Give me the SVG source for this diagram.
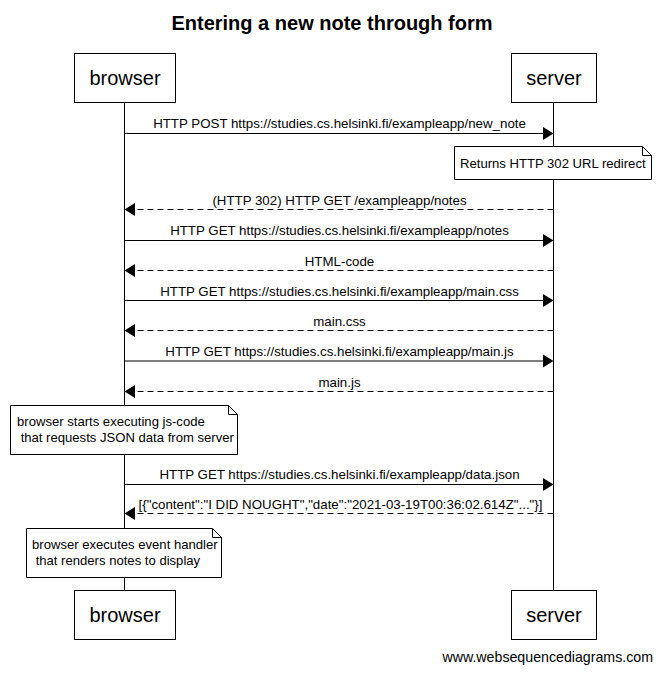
<svg xmlns="http://www.w3.org/2000/svg" width="662" height="673" viewBox="0 0 662 673">
<style>
text{font-family:"Liberation Sans",Arial,sans-serif;fill:#000}
.title{font-size:20px;font-weight:bold;text-anchor:middle}
.actor{font-size:20px;text-anchor:middle}
.lbl{font-size:13.3px;text-anchor:middle}
.nt{font-size:13.1px;white-space:pre}
.box{fill:#fff;stroke:#000;stroke-width:1}
.life{stroke:#000;stroke-width:1}
.msg{stroke:#000;stroke-width:1;fill:none}
.dash{stroke-dasharray:6,4}
.head{fill:#000}
.foot{font-size:14.2px;text-anchor:end}
</style>
<rect width="662" height="673" fill="#fff"/>
<text class="title" x="332" y="30">Entering a new note through form</text>
<g id="lifelines">
<line class="life" x1="124.5" y1="102" x2="124.5" y2="590"/>
<line class="life" x1="553.5" y1="102" x2="553.5" y2="590"/>
</g>
<g id="browser">
<rect class="box" x="74.5" y="53.5" width="101" height="49"/>
<text class="actor" x="125" y="85">browser</text>
</g>
<g id="server">
<rect class="box" x="511.5" y="53.5" width="85" height="49"/>
<text class="actor" x="554" y="85">server</text>
</g>
<g id="browser-bottom">
<rect class="box" x="74.5" y="590.5" width="101" height="49"/>
<text class="actor" x="125" y="622">browser</text>
</g>
<g id="server-bottom">
<rect class="box" x="511.5" y="590.5" width="85" height="49"/>
<text class="actor" x="554" y="622">server</text>
</g>
<g id="connectors">
<line class="msg" x1="124.5" y1="133.5" x2="544" y2="133.5"/>
<polygon class="head" points="553.5,133.5 543,127 543,140"/>
<text class="lbl" x="339.5" y="128">HTTP POST https://studies.cs.helsinki.fi/exampleapp/new_note</text>

<line class="msg dash" x1="553.5" y1="209.5" x2="134" y2="209.5"/>
<polygon class="head" points="124.5,209.5 135,203 135,216"/>
<text class="lbl" x="339.5" y="205">(HTTP 302) HTTP GET /exampleapp/notes</text>

<line class="msg" x1="124.5" y1="240.5" x2="544" y2="240.5"/>
<polygon class="head" points="553.5,240.5 543,234 543,247"/>
<text class="lbl" x="339.5" y="235">HTTP GET https://studies.cs.helsinki.fi/exampleapp/notes</text>

<line class="msg dash" x1="553.5" y1="270.5" x2="134" y2="270.5"/>
<polygon class="head" points="124.5,270.5 135,264 135,277"/>
<text class="lbl" x="339.5" y="266">HTML-code</text>

<line class="msg" x1="124.5" y1="300.5" x2="544" y2="300.5"/>
<polygon class="head" points="553.5,300.5 543,294 543,307"/>
<text class="lbl" x="339.5" y="296">HTTP GET https://studies.cs.helsinki.fi/exampleapp/main.css</text>

<line class="msg dash" x1="553.5" y1="330.5" x2="134" y2="330.5"/>
<polygon class="head" points="124.5,330.5 135,324 135,337"/>
<text class="lbl" x="339.5" y="326">main.css</text>

<line class="msg" x1="124.5" y1="361" x2="544" y2="361"/>
<polygon class="head" points="553.5,361 543,354.5 543,367.5"/>
<text class="lbl" x="339.5" y="356">HTTP GET https://studies.cs.helsinki.fi/exampleapp/main.js</text>

<line class="msg dash" x1="553.5" y1="391.5" x2="134" y2="391.5"/>
<polygon class="head" points="124.5,391.5 135,385 135,398"/>
<text class="lbl" x="339.5" y="387">main.js</text>

<line class="msg" x1="124.5" y1="484.5" x2="544" y2="484.5"/>
<polygon class="head" points="553.5,484.5 543,478 543,491"/>
<text class="lbl" x="339.5" y="479">HTTP GET https://studies.cs.helsinki.fi/exampleapp/data.json</text>

<line class="msg dash" x1="553.5" y1="513.5" x2="134" y2="513.5"/>
<polygon class="head" points="124.5,513.5 135,507 135,520"/>
<text class="lbl" x="340.5" y="509">[{"content":"I DID NOUGHT","date":"2021-03-19T00:36:02.614Z"..."}]</text>
</g>
<g id="note-redirect">
<path class="box" d="M454.5,146.5 H642.5 L651.5,155.5 V179.5 H454.5 Z"/>
<path class="msg" d="M642.5,146.5 V155.5 H651.5"/>
<text class="nt" x="460" y="168">Returns HTTP 302 URL redirect</text>
</g>
<g id="note-js">
<path class="box" d="M10.5,405.5 H228.5 L237.5,414.5 V454.5 H10.5 Z"/>
<path class="msg" d="M228.5,405.5 V414.5 H237.5"/>
<text class="nt" x="17" y="426">browser starts executing js-code</text>
<text class="nt" x="17" y="442"> that requests JSON data from server</text>
</g>
<g id="note-render">
<path class="box" d="M26.5,528.5 H212.5 L221.5,537.5 V577.5 H26.5 Z"/>
<path class="msg" d="M212.5,528.5 V537.5 H221.5"/>
<text class="nt" x="32" y="549">browser executes event handler</text>
<text class="nt" x="32" y="565"> that renders notes to display</text>
</g>
<text class="foot" x="653" y="662">www.websequencediagrams.com</text>
</svg>
